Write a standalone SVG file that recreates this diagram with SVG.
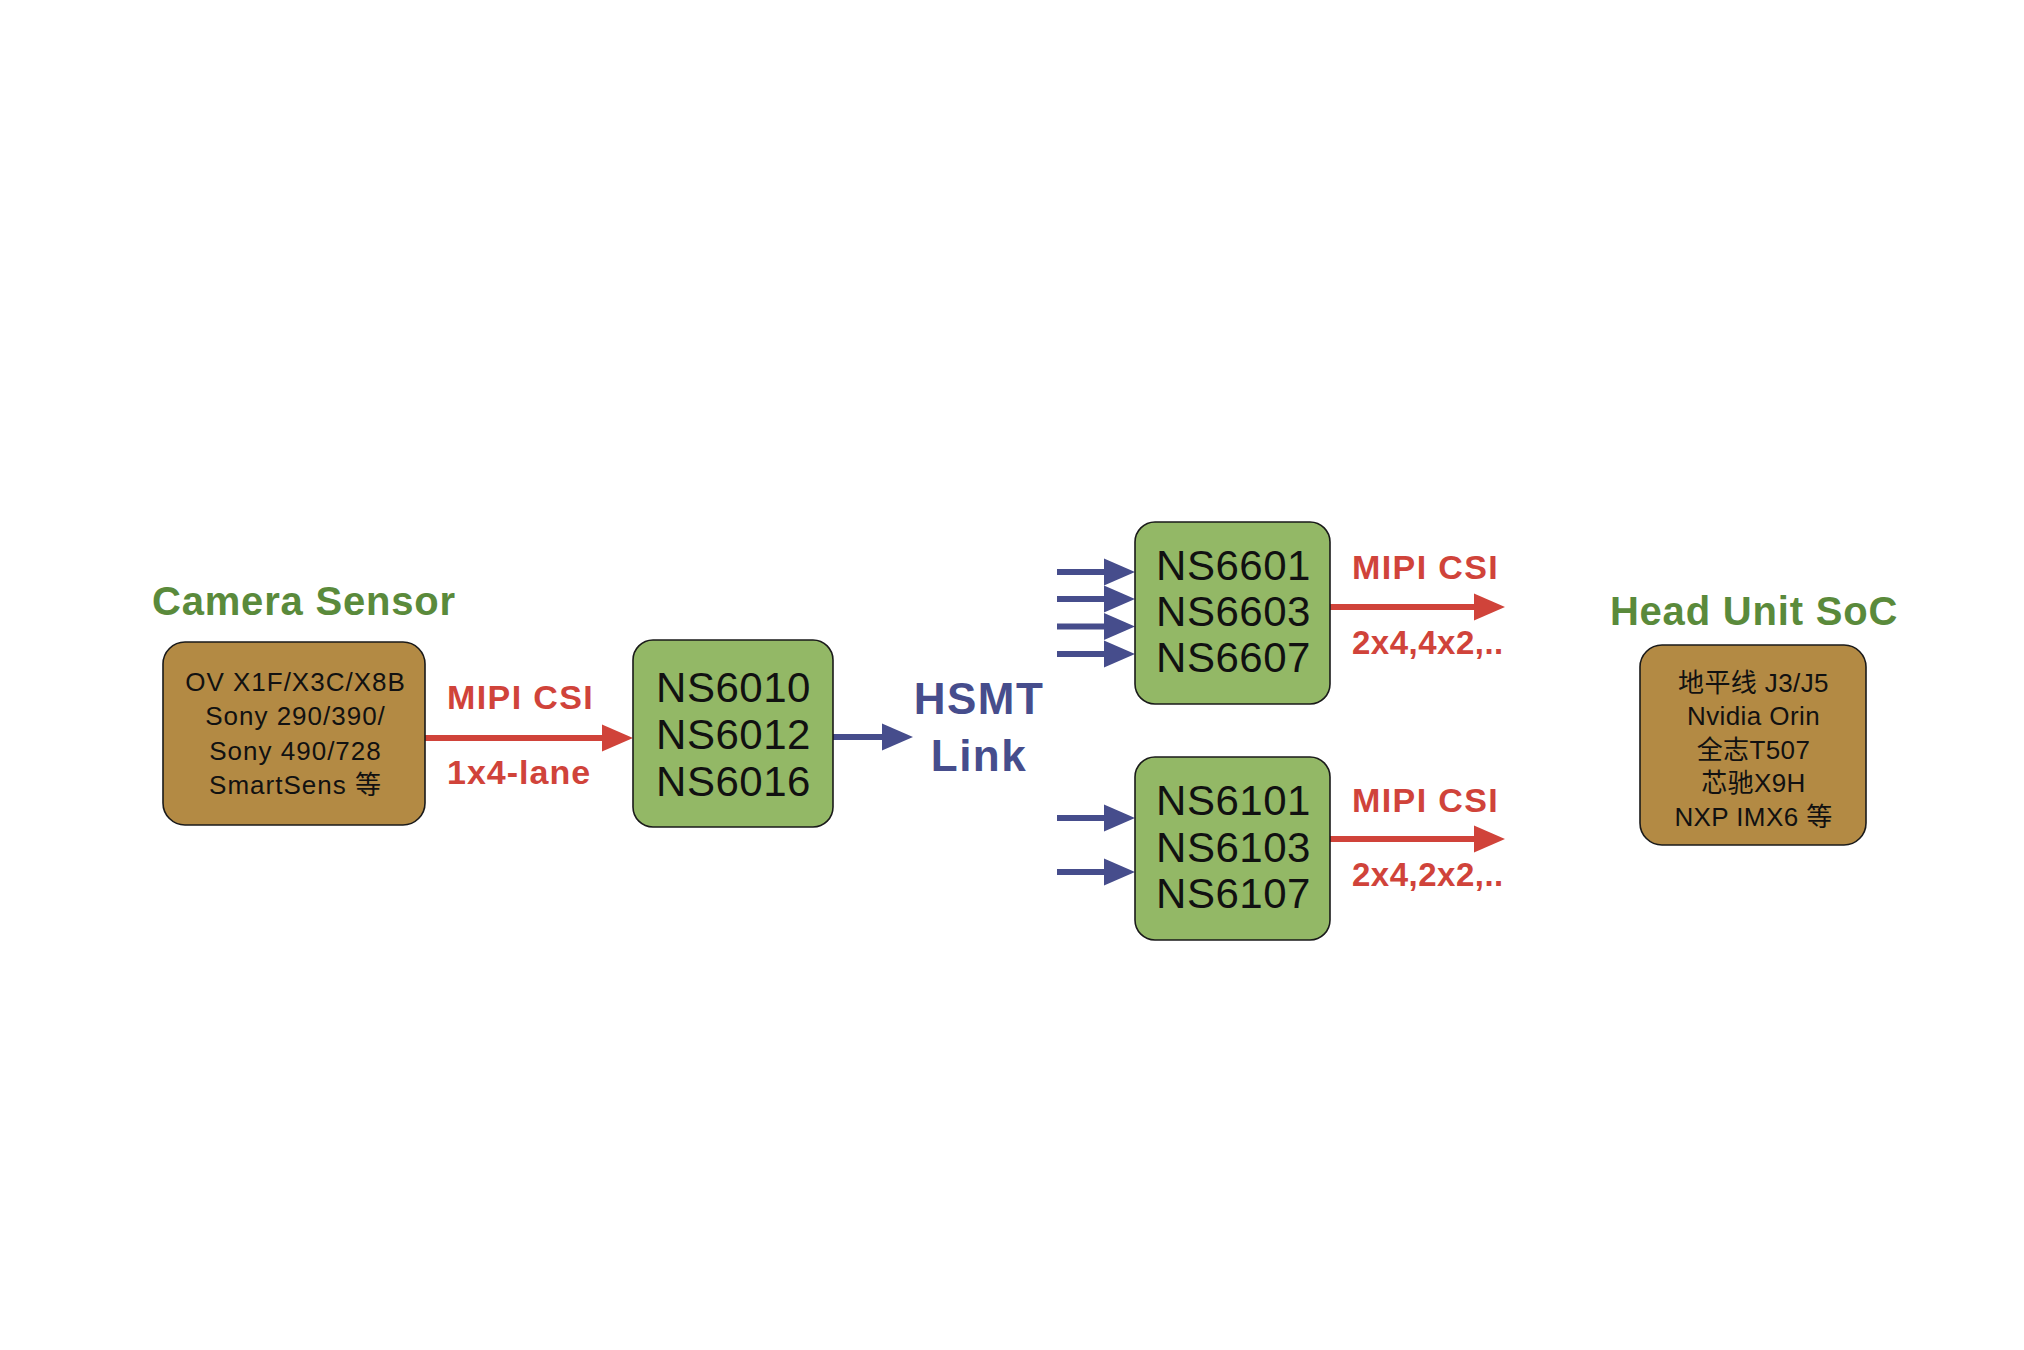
<svg xmlns="http://www.w3.org/2000/svg" width="2024" height="1350" viewBox="0 0 2024 1350">
<defs>
<style>
.bg{fill:#ffffff}
.box-g{fill:#93B866;stroke:#1a1a1a;stroke-width:1.6}
.box-b{fill:#B38A44;stroke:#1a1a1a;stroke-width:1.6}
.chip{font-family:"Liberation Sans",Arial,sans-serif;font-size:42px;letter-spacing:0.5px;fill:#111111;text-anchor:middle}
.cam{font-family:"Liberation Sans","Noto Sans CJK SC",sans-serif;font-size:26px;letter-spacing:1px;fill:#111111;text-anchor:middle}
.soc{font-family:"Liberation Sans","Noto Sans CJK SC",sans-serif;font-size:26px;letter-spacing:0.4px;fill:#111111;text-anchor:middle}
.title{font-family:"Liberation Sans",Arial,sans-serif;font-weight:bold;font-size:40px;letter-spacing:0.8px;fill:#5A8A3B}
.rlab{font-family:"Liberation Sans",Arial,sans-serif;font-weight:bold;font-size:34px;letter-spacing:1.4px;fill:#D0433A}
.rnum{font-family:"Liberation Sans",Arial,sans-serif;font-weight:bold;font-size:33px;letter-spacing:0.5px;fill:#D0433A}
.blab{font-family:"Liberation Sans",Arial,sans-serif;font-weight:bold;font-size:44px;letter-spacing:1.5px;fill:#464D8C;text-anchor:middle}
.lr{stroke:#D0433A;stroke-width:6;fill:none;marker-end:url(#ahr)}
.lb{stroke:#464D8C;stroke-width:6;fill:none;marker-end:url(#ahb)}
</style>
<marker id="ahr" markerUnits="userSpaceOnUse" markerWidth="32" markerHeight="28" refX="3" refY="13.5" orient="auto" overflow="visible"><path d="M0,0 L31,13.5 L0,27 Z" fill="#D0433A"/></marker>
<marker id="ahb" markerUnits="userSpaceOnUse" markerWidth="32" markerHeight="28" refX="3" refY="13.5" orient="auto" overflow="visible"><path d="M0,0 L31,13.5 L0,27 Z" fill="#464D8C"/></marker>
</defs>
<rect class="bg" x="0" y="0" width="2024" height="1350"/>

<g id="connectors">
<path class="lr" d="M425,738 H605"/>
<path class="lb" d="M833,737 H885"/>
<path class="lb" d="M1057,572 H1107"/>
<path class="lb" d="M1057,599 H1107"/>
<path class="lb" d="M1057,626.5 H1107"/>
<path class="lb" d="M1057,654 H1107"/>
<path class="lb" d="M1057,818 H1107"/>
<path class="lb" d="M1057,872 H1107"/>
<path class="lr" d="M1330,607 H1477"/>
<path class="lr" d="M1330,839 H1477"/>
</g>

<g id="connector-labels">
<text class="rlab" x="447" y="709">MIPI CSI</text>
<text class="rlab" x="447" y="784" style="letter-spacing:1px">1x4-lane</text>
<text class="blab" x="979" y="713.5">HSMT</text>
<text class="blab" x="979" y="771">Link</text>
<text class="rlab" x="1352" y="579">MIPI CSI</text>
<text class="rnum" x="1352" y="654">2x4,4x2,..</text>
<text class="rlab" x="1352" y="812">MIPI CSI</text>
<text class="rnum" x="1352" y="886">2x4,2x2,..</text>
</g>

<g id="camera-sensor">
<text class="title" x="152" y="615">Camera Sensor</text>
<rect class="box-b" x="163" y="642" width="262" height="183" rx="22" ry="22"/>
<text class="cam" x="295.5" y="690.5">OV X1F/X3C/X8B</text>
<text class="cam" x="295.5" y="725">Sony 290/390/</text>
<text class="cam" x="295.5" y="759.5">Sony 490/728</text>
<text class="cam" x="295.5" y="794">SmartSens 等</text>
</g>

<g id="serializer">
<rect class="box-g" x="633" y="640" width="200" height="187" rx="20" ry="20"/>
<text class="chip" x="733.5" y="702">NS6010</text>
<text class="chip" x="733.5" y="749">NS6012</text>
<text class="chip" x="733.5" y="796">NS6016</text>
</g>

<g id="deserializer-quad">
<rect class="box-g" x="1135" y="522" width="195" height="182" rx="20" ry="20"/>
<text class="chip" x="1233.5" y="580">NS6601</text>
<text class="chip" x="1233.5" y="625.5">NS6603</text>
<text class="chip" x="1233.5" y="672">NS6607</text>
</g>

<g id="deserializer-dual">
<rect class="box-g" x="1135" y="757" width="195" height="183" rx="20" ry="20"/>
<text class="chip" x="1233.5" y="815">NS6101</text>
<text class="chip" x="1233.5" y="862">NS6103</text>
<text class="chip" x="1233.5" y="908">NS6107</text>
</g>

<g id="head-unit-soc">
<text class="title" x="1754" y="625" text-anchor="middle">Head Unit SoC</text>
<rect class="box-b" x="1640" y="645" width="226" height="200" rx="22" ry="22"/>
<text class="soc" x="1753.5" y="691.5">地平线 J3/J5</text>
<text class="soc" x="1753.5" y="725">Nvidia Orin</text>
<text class="soc" x="1753.5" y="758.5">全志T507</text>
<text class="soc" x="1753.5" y="792">芯驰X9H</text>
<text class="soc" x="1753.5" y="825.5">NXP IMX6 等</text>
</g>
</svg>
